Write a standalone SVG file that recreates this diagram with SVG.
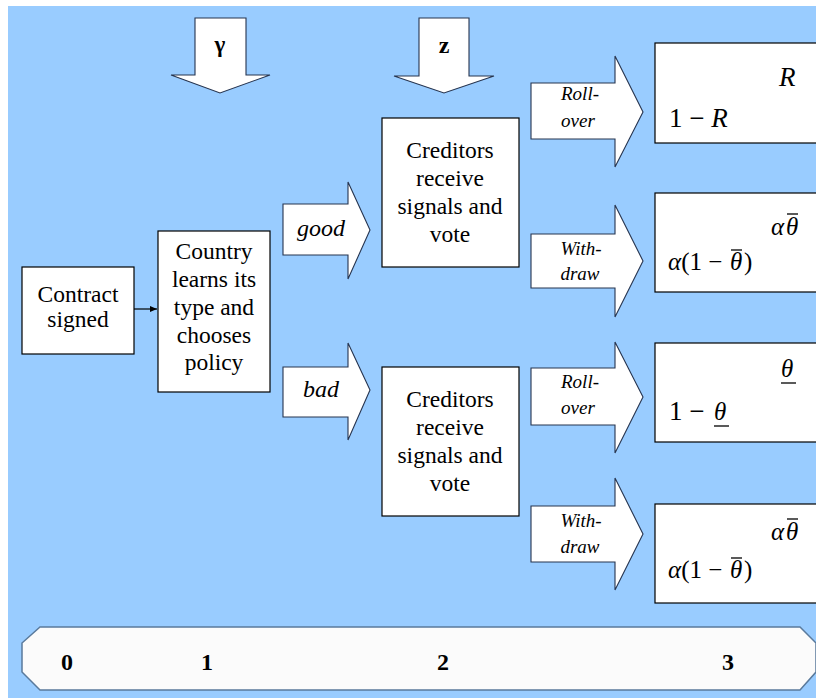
<svg xmlns="http://www.w3.org/2000/svg" width="816" height="698" viewBox="0 0 816 698">
<style>
.box{fill:#ffffff;stroke:#000000;stroke-width:1.2}
.arr{fill:#ffffff;stroke:#26344f;stroke-width:1.1;stroke-linejoin:miter}
.t{font-size:23.5px;fill:#000;text-anchor:middle}
.it{font-style:italic;fill:#000;text-anchor:middle}
.lab{font-style:italic;font-size:19px;fill:#000;text-anchor:middle}
.m{font-size:27px;fill:#000}
.num{font-weight:bold;font-size:24px;fill:#000;text-anchor:middle}
.bar{stroke:#000;stroke-width:1.3}
</style>
<defs>
<marker id="ah" markerWidth="8" markerHeight="8" refX="7" refY="4" orient="auto" markerUnits="userSpaceOnUse">
<path d="M0,1 L7,4 L0,7 z" fill="#000"/>
</marker>
</defs>
<rect x="0" y="0" width="816" height="698" fill="#ffffff"/>
<rect x="8" y="6" width="808" height="692" fill="#99CCFF"/>
<g font-family="Liberation Serif, Tinos, Times New Roman, DejaVu Serif, serif">
<g id="gamma-arrow">
<polygon class="arr" points="195,18 246,18 246,75 270,75 220,93 171,75 195,75"/>
<text class="t" x="220" y="52" style="font-size:23px;font-weight:bold">γ</text>
</g>
<g id="z-arrow">
<polygon class="arr" points="419,18 469,18 469,76 494,76 444,93 394,76 419,76"/>
<text class="t" x="444" y="53" style="font-size:24px;font-weight:bold">z</text>
</g>

<g id="contract">
<rect class="box" x="22" y="267" width="112" height="87"/>
<text class="t" x="78" y="302">Contract</text>
<text class="t" x="78" y="327">signed</text>
</g>

<g id="country">
<rect class="box" x="158" y="231" width="112" height="161"/>
<text class="t" x="214" y="259">Country</text>
<text class="t" x="214" y="287">learns its</text>
<text class="t" x="214" y="315">type and</text>
<text class="t" x="214" y="343">chooses</text>
<text class="t" x="214" y="370">policy</text>
</g>

<g id="good">
<polygon class="arr" points="283,204 348,204 348,182 370,230 348,279 348,255 283,255"/>
<text class="it" x="321" y="236" style="font-size:24px">good</text>
</g>
<g id="bad">
<polygon class="arr" points="283,367 348,367 348,343 370,390 348,440 348,417 283,417"/>
<text class="it" x="321" y="397" style="font-size:24px">bad</text>
</g>

<g id="creditors1">
<rect class="box" x="382" y="118" width="137" height="149"/>
<text class="t" x="450" y="158">Creditors</text>
<text class="t" x="450" y="186">receive</text>
<text class="t" x="450" y="214">signals and</text>
<text class="t" x="450" y="242">vote</text>
</g>
<g id="creditors2">
<rect class="box" x="382" y="367" width="137" height="149"/>
<text class="t" x="450" y="407">Creditors</text>
<text class="t" x="450" y="435">receive</text>
<text class="t" x="450" y="463">signals and</text>
<text class="t" x="450" y="491">vote</text>
</g>

<g id="rollover1">
<polygon class="arr" points="531,83 615,83 615,56 643,112 615,167 615,139 531,139"/>
<text class="lab" x="580" y="100">Roll-</text>
<text class="lab" x="578" y="127">over</text>
</g>
<g id="withdraw1">
<polygon class="arr" points="531,234 615,234 615,205 643,261 615,317 615,288 531,288"/>
<text class="lab" x="581" y="255">With-</text>
<text class="lab" x="580" y="280">draw</text>
</g>
<g id="rollover2">
<polygon class="arr" points="531,368 615,368 615,342 643,397 615,453 615,425 531,425"/>
<text class="lab" x="580" y="388">Roll-</text>
<text class="lab" x="578" y="414">over</text>
</g>
<g id="withdraw2">
<polygon class="arr" points="531,506 615,506 615,478 643,534 615,590 615,562 531,562"/>
<text class="lab" x="581" y="527">With-</text>
<text class="lab" x="580" y="553">draw</text>
</g>

<g id="payoff1">
<rect class="box" x="655" y="43" width="170" height="100"/>
<text class="m" x="779" y="86" font-style="italic">R</text>
<text class="m" x="669" y="127">1 − <tspan font-style="italic">R</tspan></text>
</g>
<g id="payoff2">
<rect class="box" x="655" y="193" width="170" height="99"/>
<text class="m" x="771" y="235" style="font-size:25px"><tspan font-style="italic">α</tspan><tspan x="786" font-style="italic">θ</tspan></text>
<line class="bar" x1="787" y1="214" x2="798" y2="214"/>
<text class="m" x="668" y="270" style="font-size:25px"><tspan font-style="italic">α</tspan>(1 − <tspan x="730" font-style="italic">θ</tspan><tspan x="744">)</tspan></text>
<line class="bar" x1="731" y1="250" x2="742" y2="250"/>
</g>
<g id="payoff3">
<rect class="box" x="655" y="343" width="170" height="99"/>
<text class="m" x="781" y="377" font-style="italic" style="font-size:25px">θ</text>
<line class="bar" x1="781" y1="383" x2="796" y2="383"/>
<text class="m" x="669" y="420">1 − <tspan x="714" font-style="italic" style="font-size:25px">θ</tspan></text>
<line class="bar" x1="714" y1="426" x2="729" y2="426"/>
</g>
<g id="payoff4">
<rect class="box" x="655" y="504" width="170" height="99"/>
<text class="m" x="771" y="540" style="font-size:25px"><tspan font-style="italic">α</tspan><tspan x="786" font-style="italic">θ</tspan></text>
<line class="bar" x1="787" y1="519" x2="798" y2="519"/>
<text class="m" x="668" y="578" style="font-size:25px"><tspan font-style="italic">α</tspan>(1 − <tspan x="730" font-style="italic">θ</tspan><tspan x="744">)</tspan></text>
<line class="bar" x1="731" y1="558" x2="742" y2="558"/>
</g>

<g id="connectors">
<line x1="134" y1="309" x2="157" y2="309" stroke="#000" stroke-width="1.2" marker-end="url(#ah)"/>
</g>

<g id="timeline">
<polygon points="40,627 800,627 816,643 816,672 800,690 40,690 22,672 22,643" fill="#fbfbfb" stroke="#5a7a9c" stroke-width="1.5"/>
<text class="num" x="67" y="670">0</text>
<text class="num" x="207" y="670">1</text>
<text class="num" x="443" y="670">2</text>
<text class="num" x="728" y="670">3</text>
</g>
</g>
</svg>
